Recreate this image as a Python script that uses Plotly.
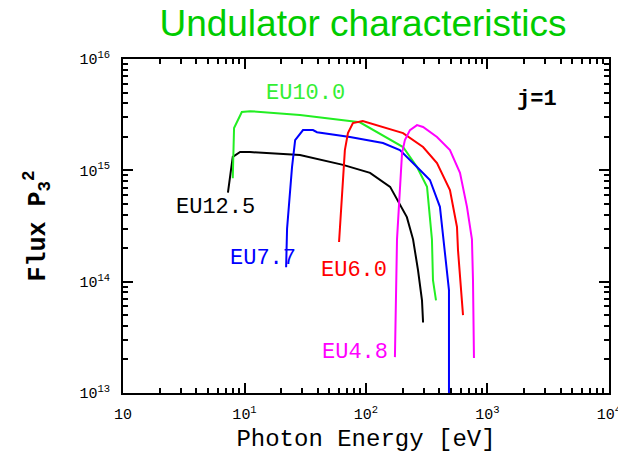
import math
import plotly.graph_objects as go

# ---- data ----
eu125_E = [7.3, 8.0, 9.2, 11.1, 28.6, 64.7, 108, 158, 217, 244, 268, 289, 295]
eu125_F = [6.3e14, 1.32e15, 1.46e15, 1.46e15, 1.37e15, 1.12e15, 9.5e14, 7.1e14, 3.8e14, 2.4e14, 1.27e14, 6.8e13, 4.3e13]

eu100_E = [8.0, 8.2, 9.5, 11.1, 28.6, 61, 89, 202, 263, 318, 349, 356, 377]
eu100_F = [8.5e14, 2.4e15, 3.34e15, 3.4e15, 3.14e15, 2.83e15, 2.7e15, 1.62e15, 1.07e15, 7.1e14, 2.4e14, 1.03e14, 6.8e13]

eu77_E = [22.0, 22.4, 24.6, 26.1, 30.3, 36.6, 39.5, 73.8, 138, 190, 263, 336, 406, 447, 482, 482]
eu77_F = [1.35e14, 3.0e14, 1.07e15, 1.87e15, 2.3e15, 2.3e15, 2.2e15, 1.99e15, 1.76e15, 1.52e15, 1.07e15, 8.2e14, 4.7e14, 1.92e14, 8.4e13, 9e12]

eu60_E = [60, 61, 67, 71, 78, 94, 138, 202, 295, 384, 491, 561, 572, 605, 629]
eu60_F = [2.27e14, 3.0e14, 1.52e15, 2.16e15, 2.66e15, 2.77e15, 2.45e15, 2.16e15, 1.62e15, 1.16e15, 6.65e14, 3.1e14, 1.92e14, 8.4e13, 5.0e13]

eu48_E = [173, 180, 198, 209, 230, 263, 295, 384, 491, 594, 678, 745, 760, 774]
eu48_F = [2.1e13, 2.4e14, 1.43e15, 1.87e15, 2.3e15, 2.55e15, 2.45e15, 1.99e15, 1.52e15, 9.5e14, 4.7e14, 2.4e14, 1.03e14, 2.06e13]

series_names = ["EU12.5", "EU10.0", "EU7.7", "EU6.0", "EU4.8"]
series_colors = ["#000000", "#22ee22", "#0000ff", "#ff0000", "#ff00ff"]
label_colors = ["#000000", "#33ee33", "#0000ff", "#ff0000", "#ff00ff"]
label_E = [5.8, 32, 14.2, 79.6, 81]
label_F = [4.6e14, 4.95e15, 1.63e14, 1.27e14, 2.33e13]

x_tickvals = [1, 10, 100, 1000, 10000]
x_ticktext = ["10", "10<sup>1</sup>", "10<sup>2</sup>", "10<sup>3</sup>", "10<sup>4</sup>"]
y_tickvals = [1e13, 1e14, 1e15, 1e16]
y_ticktext = ["10<sup>13</sup>", "10<sup>14</sup>", "10<sup>15</sup>", "10<sup>16</sup>"]

FONT = "Liberation Mono, Courier New, monospace"


def minor_vals(lo, hi):
    return [m * 10 ** d for d in range(lo, hi) for m in range(2, 10)]


fig = go.Figure()
all_E = [eu125_E, eu100_E, eu77_E, eu60_E, eu48_E]
all_F = [eu125_F, eu100_F, eu77_F, eu60_F, eu48_F]
for name, col, E, F in zip(series_names, series_colors, all_E, all_F):
    fig.add_trace(go.Scatter(x=E, y=F, mode="lines", name=name,
                             line=dict(color=col, width=2), showlegend=False))

for name, col, xe, yf in zip(series_names, label_colors, label_E, label_F):
    fig.add_annotation(x=math.log10(xe), y=math.log10(yf), xref="x", yref="y",
                       text=name, showarrow=False,
                       font=dict(family=FONT, size=22, color=col))

fig.add_annotation(x=math.log10(2550), y=math.log10(4.3e15), xref="x", yref="y",
                   text="<b>j=1</b>", showarrow=False,
                   font=dict(family=FONT, size=22, color="black"))

axis_common = dict(
    type="log", showline=True, linecolor="black", linewidth=2, mirror="ticks",
    ticks="inside", ticklen=10, tickwidth=2, tickcolor="black",
    showgrid=False, zeroline=False, automargin=False,
    tickfont=dict(family=FONT, size=15, color="black"),
)

fig.update_xaxes(**axis_common, range=[-0.0005, 4.0005], tickvals=x_tickvals, ticktext=x_ticktext,
                 ticklabelstandoff=6, ticklabeloverflow="allow",
                 minor=dict(ticks="inside", ticklen=5, tickwidth=1.5, tickcolor="black",
                            showgrid=False, tickvals=minor_vals(0, 4)),
                 title=dict(text="Photon Energy [eV]", font=dict(family=FONT, size=24, color="black"),
                            standoff=6))
fig.update_yaxes(**axis_common, range=[13, 16], tickvals=y_tickvals, ticktext=y_ticktext,
                 ticklabelstandoff=8,
                 minor=dict(ticks="inside", ticklen=5, tickwidth=1.5, tickcolor="black",
                            showgrid=False, tickvals=minor_vals(13, 16)),
                 title=dict(text="<b>Flux P<sub>3</sub><sup>2</sup></b>",
                            font=dict(family=FONT, size=25, color="black"), standoff=27))

fig.update_layout(
    width=618, height=461,
    margin=dict(l=123, r=9, t=59, b=68, autoexpand=False),
    paper_bgcolor="white", plot_bgcolor="white",
    title=dict(text="Undulator characteristics", x=363 / 618, xanchor="center",
               y=1 - 23 / 461, yanchor="middle",
               font=dict(family="Liberation Sans, Arial, sans-serif", size=37, color="#00cc00")),
)

fig.write_html("out.html")
